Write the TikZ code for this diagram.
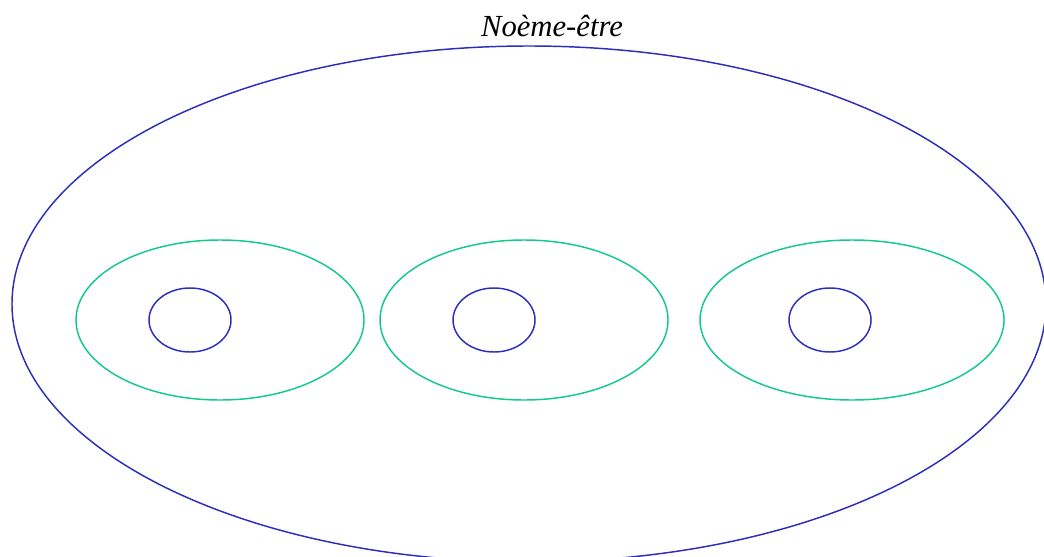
\documentclass[tikz,border=0pt]{standalone}
\usepackage{fontspec}
\setmainfont{Liberation Serif}
\definecolor{outerblue}{RGB}{45,45,190}
\definecolor{mintgreen}{RGB}{20,200,145}

\begin{document}
\begin{tikzpicture}[x=0.75pt,y=-0.75pt,
  blueline/.style={draw=outerblue, line width=1.1pt},
  greenline/.style={draw=mintgreen, line width=1.1pt}]
        \useasboundingbox (0,0) rectangle (1044,556);

        \coordinate (whole) at (529,304);
        \coordinate (g1) at (220,320);
        \coordinate (g2) at (524,320);
        \coordinate (g3) at (852,320);
        \coordinate (c1) at (190,320);
        \coordinate (c2) at (494,320);
        \coordinate (c3) at (830,320);

        \draw[blueline] (whole) ellipse [x radius=517, y radius=258];

        \draw[greenline] (g1) ellipse [x radius=144, y radius=80];
        \draw[greenline] (g2) ellipse [x radius=144, y radius=80];
        \draw[greenline] (g3) ellipse [x radius=152, y radius=80];

        \draw[blueline] (c1) ellipse [x radius=41, y radius=32];
        \draw[blueline] (c2) ellipse [x radius=41, y radius=32];
        \draw[blueline] (c3) ellipse [x radius=41, y radius=32];

        \node (title) at (552,37) [anchor=base, inner sep=0pt, font=\fontsize{23}{27}\selectfont\itshape] {Noème-être};
\end{tikzpicture}
\end{document}
